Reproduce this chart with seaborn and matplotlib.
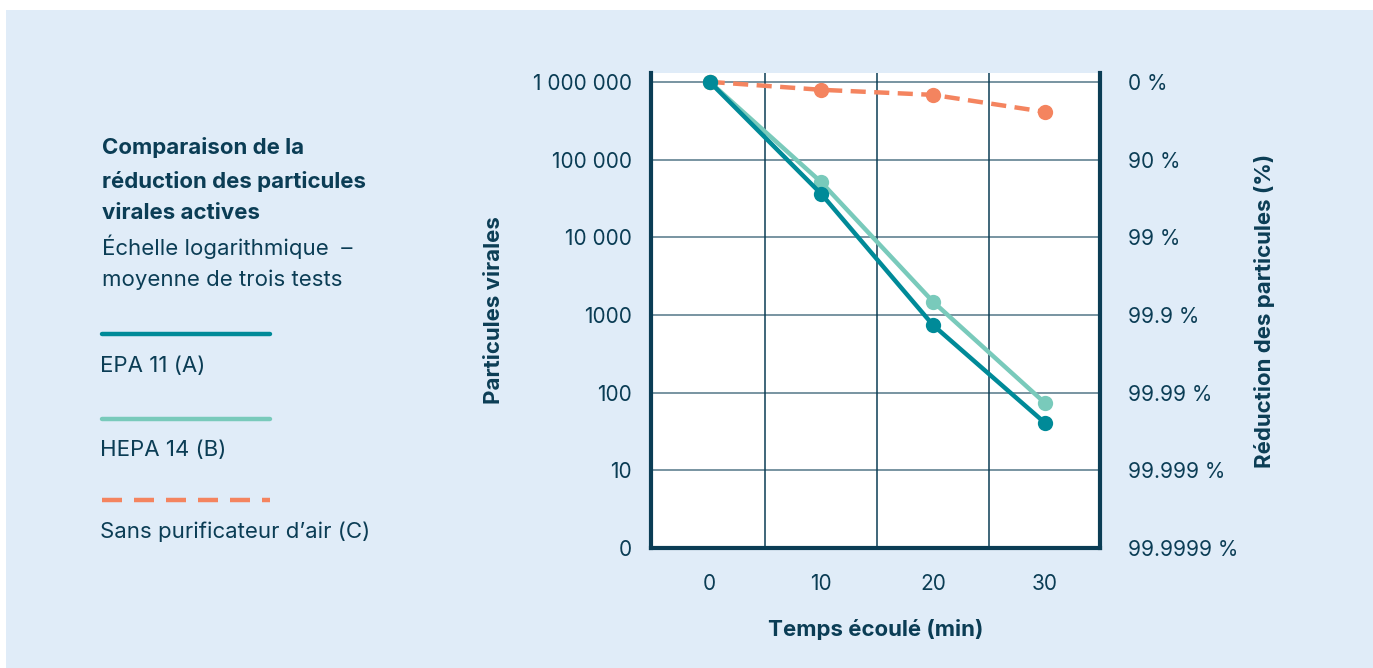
"""
Comparaison de la réduction des particules virales actives
"""
import matplotlib
matplotlib.use("Agg")
import matplotlib.pyplot as plt
from matplotlib.lines import Line2D
from matplotlib.patches import Rectangle
import seaborn as sns
import pandas as pd

# données
temps = [0, 10, 20, 30]
epa11 = [1_000_000, 36_000, 740, 41]
hepa14 = [1_000_000, 51_000, 1480, 74]
sans_purif = [1_000_000, 790_000, 680_000, 411_000]

series_noms = ["EPA 11 (A)", "HEPA 14 (B)", "Sans purificateur d\u2019air (C)"]
y_ticks = [1, 10, 100, 1000, 10_000, 100_000, 1_000_000]
y_labels_g = ["0", "10", "100", "1000", "10 000", "100 000", "1 000 000"]
y_labels_d = ["99.9999 %", "99.999 %", "99.99 %", "99.9 %", "99 %", "90 %", "0 %"]

BG = "#e0ecf8"
NAVY = "#0b3d55"
C_EPA = "#008a98"
C_HEPA = "#79cabb"
C_SANS = "#f4845f"
FS = 16      # texte
FS_TICK = 15

sns.set_style("white")
plt.rcParams["font.family"] = ["Inter", "DejaVu Sans"]

df = pd.DataFrame({
    "temps": temps * 3,
    "valeur": epa11 + hepa14 + sans_purif,
    "serie": [s for s in series_noms for _ in temps],
})

fig = plt.figure(figsize=(13.73, 6.68), dpi=100)
fig.patch.set_facecolor("white")
fig.add_artist(Rectangle((6 / 1373, 0), 1, 658 / 668, transform=fig.transFigure,
                         facecolor=BG, edgecolor="none", zorder=-10))

ax = fig.add_axes([651 / 1373, 1 - 548 / 668, 449 / 1373, 475 / 668])
ax.set_facecolor("white")

styles = {
    series_noms[0]: dict(color=C_EPA, ls="-", z=4),
    series_noms[1]: dict(color=C_HEPA, ls="-", z=3),
    series_noms[2]: dict(color=C_SANS, ls=(0, (3.4, 1.9)), z=2),
}
for nom in series_noms:
    st = styles[nom]
    sub = df[df["serie"] == nom]
    sns.lineplot(data=sub, x="temps", y="valeur", ax=ax, color=st["color"],
                 linewidth=3.2, marker="o", markersize=11, markeredgewidth=0,
                 zorder=st["z"], legend=False)
    ax.lines[-1].set_linestyle(st["ls"])

ax.set_yscale("log")
ax.set_ylim(1, 1.3e6)
ax.set_xlim(-5.25, 34.95)
ax.yaxis.minorticks_off()
ax.set_yticks(y_ticks)
ax.set_yticklabels(y_labels_g)
ax.set_xticks(temps)
ax.set_xticks([5, 15, 25], minor=True)
ax.tick_params(axis="both", which="both", length=0, labelsize=FS_TICK, colors=NAVY)
ax.tick_params(axis="y", pad=14)
ax.tick_params(axis="x", pad=19)
ax.grid(False)
ax.yaxis.grid(True, color=NAVY, linewidth=1.1, alpha=0.7)
ax.xaxis.grid(True, which="minor", color=NAVY, linewidth=1.1)

for side in ["left", "bottom", "right"]:
    ax.spines[side].set_visible(True)
    ax.spines[side].set_color(NAVY)
    ax.spines[side].set_linewidth(3)
ax.spines["top"].set_visible(False)

ax.set_xlabel("Temps écoulé (min)", fontsize=FS, fontweight="bold", color=NAVY)
ax.xaxis.set_label_coords(0.5, -0.15)
ax.set_ylabel("Particules virales", fontsize=FS, fontweight="bold", color=NAVY, va="center")
ax.yaxis.set_label_coords(-0.35, 0.5)

# axe de droite : réduction en %
ax2 = ax.twinx()
ax2.set_yscale("log")
ax2.set_ylim(ax.get_ylim())
ax2.yaxis.minorticks_off()
ax2.set_yticks(y_ticks)
ax2.set_yticklabels(y_labels_d)
ax2.tick_params(axis="y", length=0, labelsize=FS_TICK, colors=NAVY, pad=20)
for s in ax2.spines.values():
    s.set_visible(False)
ax2.set_ylabel("Réduction des particules (%)", fontsize=FS, fontweight="bold",
               color=NAVY, va="center")
ax2.yaxis.set_label_coords(1.366, 0.5)

# titre et légende à gauche
titre = [("Comparaison de la", "bold", 148),
         ("réduction des particules", "bold", 181),
         ("virales actives", "bold", 213),
         ("Échelle logarithmique  \u2013", "normal", 247),
         ("moyenne de trois tests", "normal", 280)]
for txt, poids, ty in titre:
    fig.text(102 / 1373, 1 - ty / 668, txt, fontsize=FS, fontweight=poids,
             color=NAVY, va="center")

leg_y = [334, 419, 500]
txt_y = [366, 450, 532]
leg_ls = ["-", "-", (0, (4.5, 2.7))]
for nom, ly, ty, ls in zip(series_noms, leg_y, txt_y, leg_ls):
    fig.add_artist(Line2D([102 / 1373, 270 / 1373], [1 - ly / 668] * 2,
                          transform=fig.transFigure, color=styles[nom]["color"],
                          linewidth=3.2, linestyle=ls))
    fig.text(100 / 1373, 1 - ty / 668, nom, fontsize=FS, color=NAVY, va="center")

fig.savefig("out.png", dpi=100)
